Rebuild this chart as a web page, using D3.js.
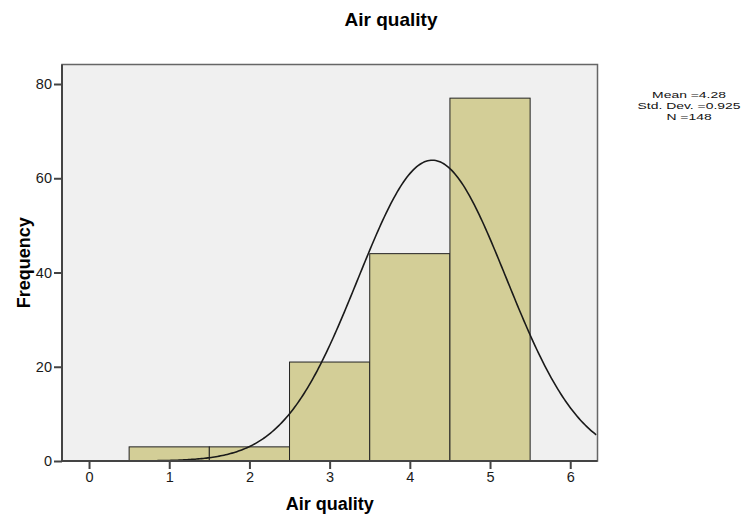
<!DOCTYPE html>
<html>
<head>
<meta charset="utf-8">
<script src="https://cdn.jsdelivr.net/npm/d3@7"></script>
<style>
  body { margin: 0; background: #fff; }
  svg { display: block; font-family: "Liberation Sans", Arial, sans-serif; }
</style>
</head>
<body>
<svg></svg>
<script>
// histogram bins (Air quality score) and counts
var binStart = [0.5, 1.5, 2.5, 3.5, 4.5]
var binEnd = [1.5, 2.5, 3.5, 4.5, 5.5]
var counts = [3, 3, 21, 44, 77]
var xTicks = [0, 1, 2, 3, 4, 5, 6]
var yTicks = [0, 20, 40, 60, 80]
var stats = {mean: 4.28, sd: 0.925, n: 148}
var statLines = ["Mean =4.28", "Std. Dev. =0.925", "N =148"]

var svg = d3.select("svg")
    .attr("width", 744)
    .attr("height", 514)

var pL = 62, pR = 597.5, pT = 64.5, pB = 461

var x = d3.scaleLinear().domain([-0.337, 6.34]).range([pL, pR])
var y = d3.scaleLinear().domain([0, 84.14]).range([pB, pT])

// plot background
svg.append("rect")
    .attr("x", pL).attr("y", pT)
    .attr("width", pR - pL).attr("height", pB - pT)
    .attr("fill", "#f0f0f0")
    .attr("stroke", "#666")
    .attr("stroke-width", 1.5)

var bins = counts.map((c, i) => ({x0: binStart[i], x1: binEnd[i], c: c}))

svg.append("g").selectAll("rect")
    .data(bins).enter().append("rect")
    .attr("x", d => x(d.x0))
    .attr("y", d => y(d.c))
    .attr("width", d => x(d.x1) - x(d.x0))
    .attr("height", d => y(0) - y(d.c))
    .attr("fill", "#d3ce97")
    .attr("stroke", "#222")
    .attr("stroke-width", 1)

// normal curve from mean / sd / N (bin width 1)
var peak = stats.n / (stats.sd * Math.sqrt(2 * Math.PI))
var xs = d3.range(x.domain()[0], x.domain()[1] + 0.001, 0.02)
var line = d3.line()
    .x(d => x(d))
    .y(d => y(peak * Math.exp(-0.5 * Math.pow((d - stats.mean) / stats.sd, 2))))

svg.append("clipPath").attr("id", "clip")
    .append("rect")
    .attr("x", pL).attr("y", pT)
    .attr("width", pR - pL).attr("height", pB - pT)

svg.append("path")
    .datum(xs)
    .attr("d", line)
    .attr("clip-path", "url(#clip)")
    .attr("fill", "none")
    .attr("stroke", "#1a1a1a")
    .attr("stroke-width", 1.6)

// axes
var xAxis = svg.append("g")
    .attr("transform", `translate(0, ${pB})`)
    .call(d3.axisBottom(x).tickValues(xTicks).tickFormat(d3.format("d")).tickSize(8).tickSizeOuter(0).tickPadding(3))
var yAxis = svg.append("g")
    .attr("transform", `translate(${pL}, 0)`)
    .call(d3.axisLeft(y).tickValues(yTicks).tickFormat(d3.format("d")).tickSize(8).tickSizeOuter(0).tickPadding(2))

;[xAxis, yAxis].forEach(g => {
    g.select(".domain").attr("stroke", "#444").attr("stroke-width", 2)
    g.selectAll(".tick line").attr("stroke", "#444").attr("stroke-width", 2)
    g.selectAll(".tick text")
        .attr("fill", "#1a1a1a")
        .style("font-size", "14.5px")
        .style("font-family", "Liberation Sans, Arial, sans-serif")
})
// axis lines run along the full plot frame
yAxis.select(".domain").attr("d", `M0,${pT}V${pB}`)
xAxis.select(".domain").attr("d", `M${pL},0H${pR}`)

// titles
svg.append("text")
    .attr("x", 391).attr("y", 26)
    .attr("text-anchor", "middle")
    .style("font-size", "19px").style("font-weight", "bold")
    .text("Air quality")

svg.append("text")
    .attr("x", (pL + pR) / 2).attr("y", 510)
    .attr("text-anchor", "middle")
    .style("font-size", "18px").style("font-weight", "bold")
    .text("Air quality")

svg.append("text")
    .attr("transform", `translate(30, ${(pT + pB) / 2}) rotate(-90)`)
    .attr("text-anchor", "middle")
    .style("font-size", "18px").style("font-weight", "bold")
    .text("Frequency")

// stats text (SPSS-style, slightly wide)
var st = svg.append("g").attr("transform", "translate(689, 0) scale(1.45, 1)")
st.selectAll("text")
    .data(statLines).enter().append("text")
    .attr("x", 0)
    .attr("y", (d, i) => 98.5 + i * 11)
    .attr("text-anchor", "middle")
    .style("font-size", "9.6px")
    .attr("fill", "#111")
    .text(d => d)
</script>
</body>
</html>
